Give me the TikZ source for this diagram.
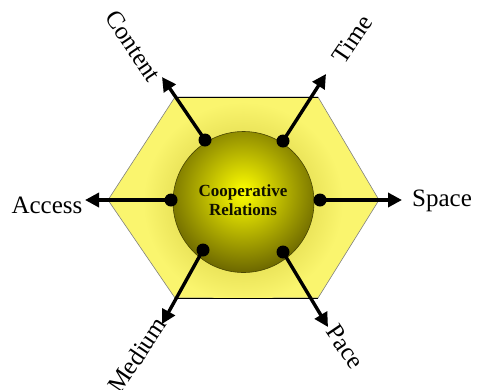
\documentclass[tikz,border=0pt]{standalone}
\usepackage{fontspec}
\setmainfont{Liberation Serif}
\usetikzlibrary{arrows.meta}
\definecolor{hexfill}{RGB}{250,245,110}
\definecolor{halo}{RGB}{200,190,45}
\definecolor{olive}{RGB}{105,100,0}
\definecolor{ballc}{RGB}{255,255,0}
\begin{document}
\begin{tikzpicture}[x=1pt,y=-1pt,
  dot/.style={circle,fill=black,inner sep=0pt,minimum size=13pt},
  spoke/.style={line width=3.4pt,-{Triangle[length=14pt,width=14pt]}},
  lab/.style={font=\fontsize{25}{25}\selectfont,inner sep=0pt}]
\useasboundingbox (0,0) rectangle (478,389);
% hexagon
\path[fill=hexfill,draw=gray,line width=0.6pt] (175,97) -- (318,97) -- (379,200) -- (318,298) -- (175,298) -- (108,200) -- cycle;
\begin{scope}
\clip (175,97) -- (318,97) -- (379,200) -- (318,298) -- (175,298) -- (108,200) -- cycle;
\shade[inner color=halo,outer color=hexfill] (243,202) circle (100);
\end{scope}
\draw[black,line width=0.8pt] (175,97) -- (318,97);
\draw[black,line width=0.8pt] (175,298) -- (318,298);
% ball
\begin{scope}
\clip (243.5,202) circle (70.5);
\shade[inner color=ballc,outer color=olive] (243,192) circle (82);
\end{scope}
\draw[olive!70!black,line width=0.6pt] (243.5,202) circle (70.5);
\node[font=\bfseries\fontsize{17}{19}\selectfont,align=center,text=black!85!olive] (c) at (243,200) {Cooperative\\Relations};
% dots
\node[dot] (d1) at (205,140) {};
\node[dot] (d2) at (283,141) {};
\node[dot] (d3) at (171,200) {};
\node[dot] (d4) at (320,200) {};
\node[dot] (d5) at (203,250) {};
\node[dot] (d6) at (283,252) {};
% arrow ends
\coordinate (e1) at (162,77);
\coordinate (e2) at (326,74);
\coordinate (e3) at (85,200);
\coordinate (e4) at (402,200);
\coordinate (e5) at (162,324);
\coordinate (e6) at (328,327);
\draw[spoke] (d1.center) -- (e1);
\draw[spoke] (d2.center) -- (e2);
\draw[spoke] (d3.center) -- (e3);
\draw[spoke] (d4.center) -- (e4);
\draw[spoke] (d5.center) -- (e5);
\draw[spoke] (d6.center) -- (e6);
% labels
\node[lab,rotate=-56] (l1) at (133,46) {Content};
\node[lab,rotate=56] (l2) at (352,39) {Time};
\node[lab] (l3) at (47,205) {Access};
\node[lab] (l4) at (442,201) {Space};
\node[lab,rotate=56] (l5) at (137,355) {Medium};
\node[lab,rotate=-56] (l6) at (345,347) {Pace};
\end{tikzpicture}
\end{document}
